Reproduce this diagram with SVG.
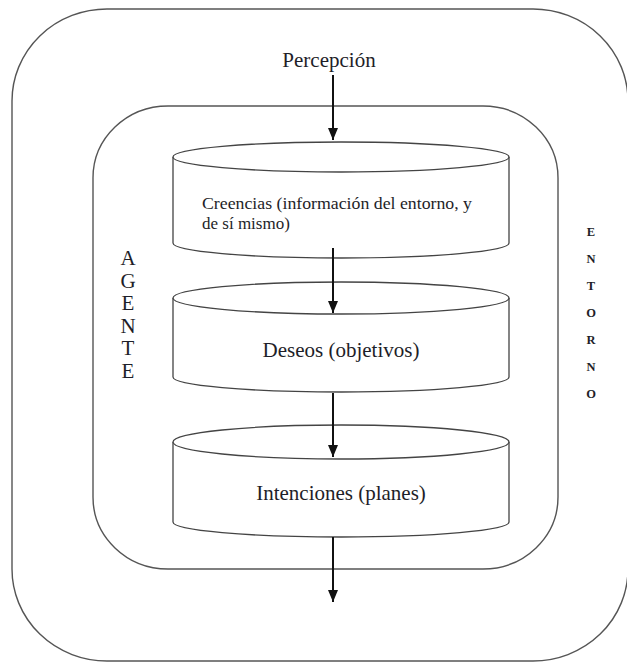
<svg xmlns="http://www.w3.org/2000/svg" width="627" height="663" viewBox="0 0 627 663">
  <style>
    .frame { fill: none; stroke: #555; stroke-width: 1.4; }
    .cyl { fill: #fff; stroke: #444; stroke-width: 1.3; }
    .conn { stroke: #111; stroke-width: 2; fill: none; marker-end: url(#arrow); }
    .t { font-family: "Liberation Serif", "Times New Roman", serif; fill: #1e1e28; }
    .big { font-size: 21px; }
    .mid { font-size: 17px; }
    .small { font-size: 12.5px; font-weight: bold; }
  </style>
  <defs>
    <marker id="arrow" viewBox="0 0 12 10" refX="12" refY="5" markerWidth="12" markerHeight="10" markerUnits="userSpaceOnUse" orient="auto">
      <path d="M0,0 L12,5 L0,10 z" fill="#111"/>
    </marker>
  </defs>
  <rect width="627" height="663" fill="#fff"/>

  <g id="entorno">
    <rect class="frame" x="12" y="9" width="616" height="652" rx="95" ry="92"/>
    <g class="t small" text-anchor="middle">
      <text x="591" y="236">E</text>
      <text x="591" y="263">N</text>
      <text x="591" y="290">T</text>
      <text x="591" y="317">O</text>
      <text x="591" y="344">R</text>
      <text x="591" y="371">N</text>
      <text x="591" y="398">O</text>
    </g>
  </g>

  <g id="agente">
    <rect class="frame" x="93" y="106" width="465" height="463" rx="75" ry="72"/>
    <g class="t big" text-anchor="middle">
      <text x="128" y="265">A</text>
      <text x="128" y="287.5">G</text>
      <text x="128" y="310">E</text>
      <text x="128" y="332.5">N</text>
      <text x="128" y="355">T</text>
      <text x="128" y="377.5">E</text>
    </g>
  </g>

  <g id="percepcion">
    <text class="t big" x="329" y="67" text-anchor="middle">Percepción</text>
  </g>

  <g id="creencias">
    <path class="cyl" d="M173,157 L173,243 A168,15 0 0 0 509,243 L509,157"/>
    <ellipse class="cyl" cx="341" cy="157" rx="168" ry="15"/>
    <text class="t mid" x="202" y="209" textLength="270" lengthAdjust="spacingAndGlyphs">Creencias (información del entorno, y</text>
    <text class="t mid" x="202" y="229">de sí mismo)</text>
  </g>

  <g id="deseos">
    <path class="cyl" d="M173,298 L173,377 A168,15 0 0 0 509,377 L509,298"/>
    <ellipse class="cyl" cx="341" cy="298" rx="168" ry="16"/>
    <text class="t big" x="341" y="357" text-anchor="middle">Deseos (objetivos)</text>
  </g>

  <g id="intenciones">
    <path class="cyl" d="M173,442 L173,522 A168,15 0 0 0 509,522 L509,442"/>
    <ellipse class="cyl" cx="341" cy="442" rx="168" ry="17"/>
    <text class="t big" x="341" y="500" text-anchor="middle">Intenciones (planes)</text>
  </g>

  <g id="connectors">
    <line class="conn" x1="333" y1="75" x2="333" y2="140"/>
    <line class="conn" x1="333" y1="248" x2="333" y2="313"/>
    <line class="conn" x1="333" y1="393" x2="333" y2="457"/>
    <line class="conn" x1="333" y1="537" x2="333" y2="602"/>
  </g>
</svg>
